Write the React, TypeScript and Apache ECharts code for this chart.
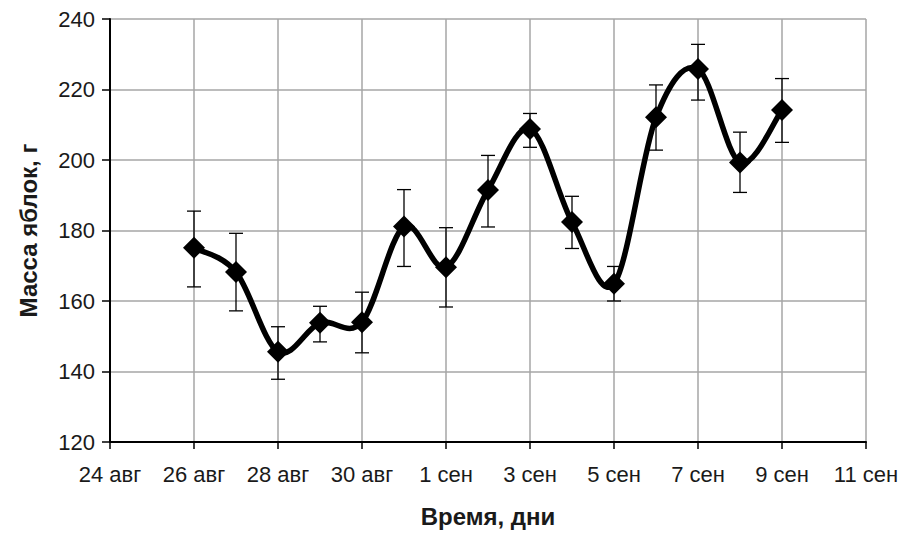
import React, { useEffect, useRef } from "react";
import * as echarts from "echarts";

const startDate = "2020-08-24";
const dates = [
  "2020-08-26", "2020-08-27", "2020-08-28", "2020-08-29", "2020-08-30",
  "2020-08-31", "2020-09-01", "2020-09-02", "2020-09-03", "2020-09-04",
  "2020-09-05", "2020-09-06", "2020-09-07", "2020-09-08", "2020-09-09",
];
const mass = [175.1, 168.2, 145.6, 153.8, 154.0, 181.1, 169.6, 191.5, 208.8, 182.4, 164.9, 212.1, 225.8, 199.3, 214.2];
const upper = [185.5, 179.2, 152.7, 158.5, 162.5, 191.6, 180.8, 201.3, 213.2, 189.7, 169.8, 221.3, 232.8, 207.9, 223.1];
const lower = [164.0, 157.2, 137.8, 148.4, 145.3, 169.8, 158.3, 181.0, 203.6, 174.9, 160.0, 202.8, 217.0, 190.8, 205.0];
const xTickLabels = ["24 авг", "26 авг", "28 авг", "30 авг", "1 сен", "3 сен", "5 сен", "7 сен", "9 сен", "11 сен"];

const DAY = 86400000;
const dayOffset = (d: string) => Math.round((Date.parse(d) - Date.parse(startDate)) / DAY);

const FONT = "'Liberation Sans', Arial, sans-serif";

export default function App() {
  const ref = useRef<HTMLDivElement>(null);
  useEffect(() => {
    const chart = echarts.init(ref.current!, null, { renderer: "svg" });
    const lineData = dates.map((d, i) => [dayOffset(d), mass[i]]);
    const errData = dates.map((d, i) => [dayOffset(d), lower[i], upper[i]]);
    const n = lineData.length;
    chart.setOption({
      animation: false,
      backgroundColor: "#ffffff",
      grid: { left: 110, right: 38, top: 19, bottom: 90, containLabel: false },
      xAxis: {
        type: "value",
        min: 0,
        max: 18,
        interval: 2,
        name: "Время, дни",
        nameLocation: "middle",
        nameGap: 62,
        nameTextStyle: { fontFamily: FONT, fontWeight: "bold", fontSize: 24, color: "#1a1a1a" },
        axisLine: { show: true, lineStyle: { color: "#000", width: 2 } },
        axisTick: { show: true, length: 7, inside: false, lineStyle: { color: "#000", width: 1.5 } },
        axisLabel: {
          margin: 21,
          fontFamily: FONT,
          fontSize: 22,
          color: "#1a1a1a",
          formatter: (v: number) => xTickLabels[Math.round(v / 2)] ?? "",
        },
        splitLine: { show: true, lineStyle: { color: "#a6a6a6", width: 1.5 } },
      },
      yAxis: {
        type: "value",
        min: 120,
        max: 240,
        interval: 20,
        name: "Масса яблок, г",
        nameLocation: "middle",
        nameGap: 70,
        nameRotate: 90,
        nameTextStyle: { fontFamily: FONT, fontWeight: "bold", fontSize: 24, color: "#1a1a1a" },
        axisLine: { show: true, lineStyle: { color: "#000", width: 2 } },
        axisTick: { show: true, length: 8, inside: false, lineStyle: { color: "#000", width: 1.5 } },
        axisLabel: { margin: 15, fontFamily: FONT, fontSize: 22, color: "#1a1a1a" },
        splitLine: { show: true, lineStyle: { color: "#a6a6a6", width: 1.5 } },
      },
      series: [
        {
          type: "custom",
          z: 3,
          data: errData,
          encode: { x: 0, y: [1, 2] },
          renderItem: (params: any, api: any) => {
            const x = api.value(0);
            const lo = api.coord([x, api.value(1)]);
            const hi = api.coord([x, api.value(2)]);
            const hw = 7;
            const style = { stroke: "#000", lineWidth: 1.3 };
            return {
              type: "group",
              children: [
                { type: "line", shape: { x1: lo[0], y1: lo[1], x2: hi[0], y2: hi[1] }, style },
                { type: "line", shape: { x1: hi[0] - hw, y1: hi[1], x2: hi[0] + hw, y2: hi[1] }, style },
                { type: "line", shape: { x1: lo[0] - hw, y1: lo[1], x2: lo[0] + hw, y2: lo[1] }, style },
              ],
            };
          },
        },
        {
          type: "custom",
          z: 4,
          clip: false,
          data: lineData,
          encode: { x: 0, y: 1 },
          renderItem: (params: any, api: any) => {
            const i = params.dataIndex;
            if (i >= n - 1) return { type: "group", children: [] };
            const P = (k: number) => {
              const kk = Math.max(0, Math.min(n - 1, k));
              return api.coord(lineData[kk]);
            };
            const p0 = P(i - 1), p1 = P(i), p2 = P(i + 1), p3 = P(i + 2);
            const t = 1 / 6;
            return {
              type: "bezierCurve",
              shape: {
                x1: p1[0], y1: p1[1],
                cpx1: p1[0] + (p2[0] - p0[0]) * t, cpy1: p1[1] + (p2[1] - p0[1]) * t,
                cpx2: p2[0] - (p3[0] - p1[0]) * t, cpy2: p2[1] - (p3[1] - p1[1]) * t,
                x2: p2[0], y2: p2[1],
              },
              style: { stroke: "#000", lineWidth: 5.5, fill: null, lineCap: "round" },
            };
          },
        },
        {
          type: "scatter",
          z: 5,
          data: lineData,
          symbol: "diamond",
          symbolSize: 22,
          itemStyle: { color: "#000", opacity: 1 },
        },
      ],
    });
    return () => chart.dispose();
  }, []);
  return (
    <div
      ref={ref}
      style={{ position: "fixed", left: 0, top: 0, width: 904, height: 533, background: "#fff" }}
    />
  );
}
